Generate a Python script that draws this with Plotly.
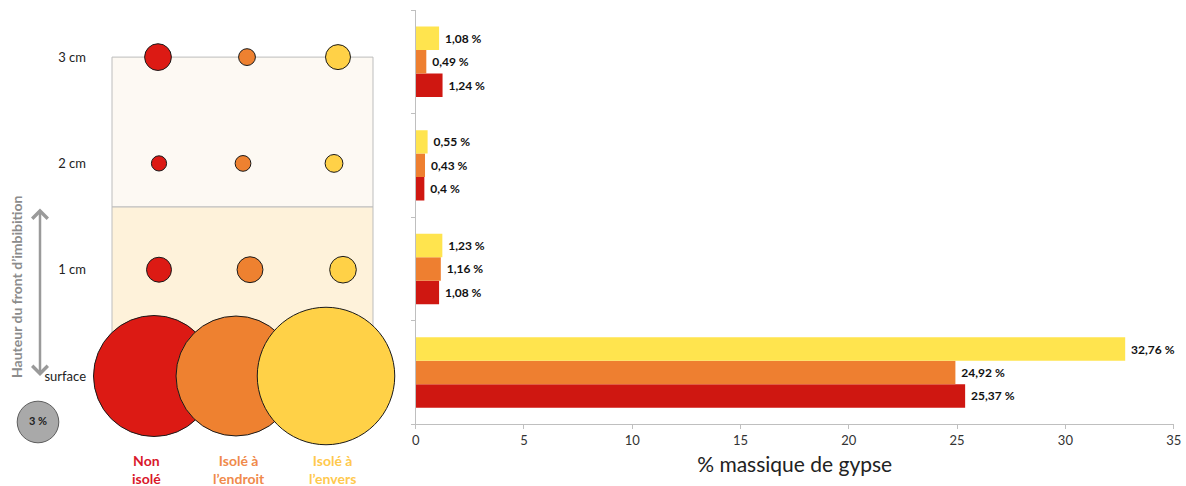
import plotly.graph_objects as go

# ---------------- data ----------------
heights = ["surface", "1 cm", "2 cm", "3 cm"]           # bottom -> top
height_values = [0, 1, 2, 3]
series_names = ["Non isolé", "Isolé à l'endroit", "Isolé à l'envers"]
non_isole = [25.37, 1.08, 0.40, 1.24]
isole_endroit = [24.92, 1.16, 0.43, 0.49]
isole_envers = [32.76, 1.23, 0.55, 1.08]
reference_pct = [3]
x_ticks = [0, 5, 10, 15, 20, 25, 30, 35]
series_values = [non_isole, isole_endroit, isole_envers]

# ---------------- style / layout ----------------
bar_colors = ["#CF1711", "#EE7F30", "#FFE44E"]
circle_colors = ["#DC1A14", "#EE8130", "#FFD147"]
label_colors = ["#D9182B", "#F08A4B", "#FFC94D"]
label_texts = ["Non<br>isolé", "Isolé à<br>l’endroit", "Isolé à<br>l’envers"]
label_x = [146, 239, 332]
# circle column centres (left-panel pixel units) per row: surface, 1, 2, 3 cm
circle_x = [[154, 236, 326], [159, 250, 343], [159, 243, 334], [158, 247, 338]]
FONT = "Lato"

W, H = 1186, 486
# left panel: x in pixels, y in "cm" units
PX_PER_CM = 106.3
Y_SURF_PX = 376
y2_range = [(Y_SURF_PX - H) / PX_PER_CM, Y_SURF_PX / PX_PER_CM]
sizeref = 2 * max(non_isole) / 121 ** 2

fig = go.Figure()

# ---- bar chart ----
for i in range(3):
    fig.add_trace(go.Bar(
        y=height_values, x=series_values[i], orientation="h",
        name=series_names[i], marker=dict(color=bar_colors[i], line=dict(width=0)),
        text=series_values[i], texttemplate="\u00a0%{x:.2~f} %", textposition="outside",
        constraintext="none", cliponaxis=False,
        textfont=dict(family=FONT, size=12, color="#111111", weight="bold"),
        xaxis="x", yaxis="y", showlegend=False,
    ))

# ---- bubbles ----
for i in range(3):
    fig.add_trace(go.Scatter(
        x=[circle_x[r][i] for r in range(4)], y=height_values,
        mode="markers",
        marker=dict(size=series_values[i], sizemode="area", sizeref=sizeref,
                    color=circle_colors[i], line=dict(color="#1a1a1a", width=1),
                    opacity=1),
        xaxis="x2", yaxis="y2", showlegend=False, cliponaxis=False,
    ))

# reference circle 3 %
fig.add_trace(go.Scatter(
    x=[38], y=[(Y_SURF_PX - 422) / PX_PER_CM], mode="markers+text",
    marker=dict(size=reference_pct, sizemode="area", sizeref=sizeref,
                color="#858585", line=dict(color="#1a1a1a", width=1)),
    text=[f"{reference_pct[0]} %"], textposition="middle center",
    textfont=dict(family=FONT, size=11, color="#222222", weight="bold"),
    xaxis="x2", yaxis="y2", showlegend=False, cliponaxis=False,
))

# background boxes (left panel)
div_h = (Y_SURF_PX - 207) / PX_PER_CM
fig.add_shape(type="rect", xref="x2", yref="y2", x0=112, x1=373, y0=div_h, y1=3,
              fillcolor="#FDF9F3", line=dict(color="#BDBDBD", width=1), layer="below")
fig.add_shape(type="rect", xref="x2", yref="y2", x0=112, x1=373, y0=0, y1=div_h,
              fillcolor="#FEF2DA", line=dict(color="#BDBDBD", width=1), layer="below")

# double arrow
fig.add_annotation(xref="x2", yref="y2", axref="x2", ayref="y2",
                   x=40, y=0, ax=40, ay=div_h, text="", showarrow=True,
                   arrowhead=4, startarrowhead=4, arrowside="end+start",
                   arrowsize=1.2, arrowwidth=2.5, arrowcolor="#9A9A9A",
                   startarrowsize=1.2)
fig.add_annotation(xref="x2", yref="y2", x=16, y=(Y_SURF_PX - 287) / PX_PER_CM,
                   text="Hauteur du front d’imbibition", textangle=-90, showarrow=False,
                   font=dict(family=FONT, size=14, color="#8C8C8C", weight="bold"))

for i in range(3):
    fig.add_annotation(xref="x2", yref="y2", x=label_x[i], y=(Y_SURF_PX - 469) / PX_PER_CM,
                       text=label_texts[i], showarrow=False,
                       font=dict(family=FONT, size=14, color=label_colors[i], weight="bold"))

fig.update_layout(
    width=W, height=H, autosize=False,
    margin=dict(l=0, r=0, t=0, b=0, autoexpand=False),
    paper_bgcolor="white", plot_bgcolor="rgba(0,0,0,0)",
    separators=", ",
    barmode="group", bargap=0.32, bargroupgap=0,
    font=dict(family=FONT, color="#333333"),
    xaxis=dict(domain=[415.7 / W, 1173.7 / W], range=[0, 35], tickvals=x_ticks,
               showgrid=False, zeroline=False, showline=True, linecolor="#BFBFBF",
               linewidth=1, ticks="outside", ticklen=4, tickcolor="#BFBFBF",
               tickfont=dict(family=FONT, size=13, color="#333333"),
               title=dict(text="% massique de gypse", standoff=10,
                          font=dict(family=FONT, size=21, color="#222222")),
               anchor="y", automargin=False),
    yaxis=dict(domain=[1 - 424.3 / H, 1 - 10 / H], range=[-0.5, 3.5],
               tickvals=[-0.5, 0.5, 1.5, 2.5, 3.5], showticklabels=False,
               showgrid=False, zeroline=False, showline=True, linecolor="#BFBFBF",
               ticks="outside", ticklen=4, tickcolor="#BFBFBF", anchor="x",
               automargin=False),
    xaxis2=dict(domain=[0, 415 / W], range=[0, 415], visible=False, anchor="y2",
                automargin=False),
    yaxis2=dict(domain=[0, 1], range=y2_range, anchor="free", position=86 / W,
                tickvals=height_values, ticktext=heights, showgrid=False,
                zeroline=False, showline=False, ticks="", automargin=False,
                tickfont=dict(family=FONT, size=13, color="#222222")),
)

fig.write_html(
    "out.html",
    config={"displayModeBar": False, "responsive": False},
    post_script=("document.documentElement.style.overflow='hidden';"
                 "document.body.style.overflow='hidden';"
                 "document.body.style.margin='0';"),
)
